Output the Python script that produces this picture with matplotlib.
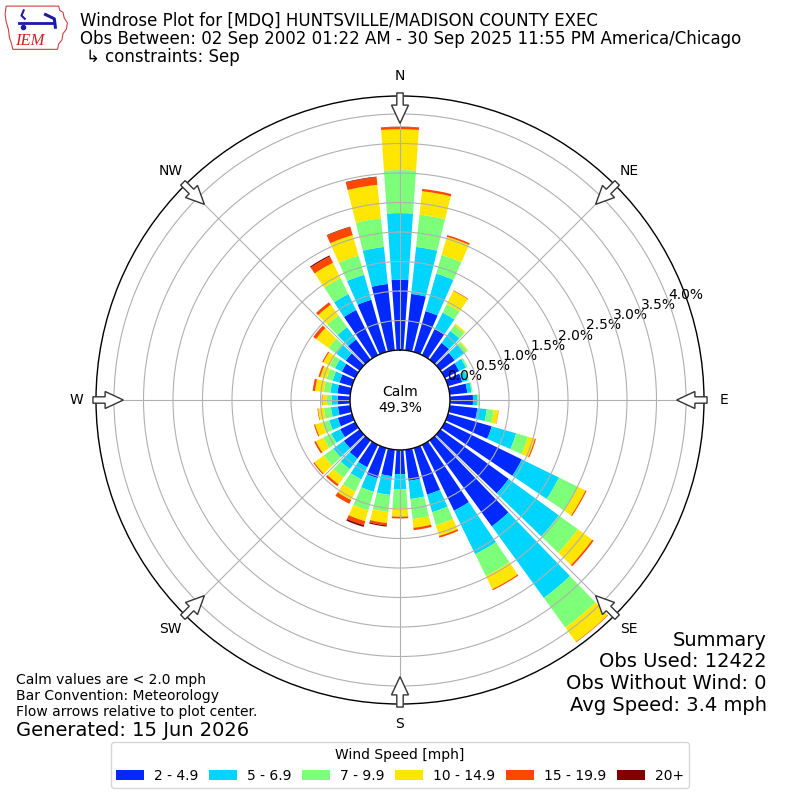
import numpy as np
import matplotlib
matplotlib.use("Agg")
import matplotlib.pyplot as plt
from matplotlib.patches import FancyArrow, Patch, Polygon

# ---------------- data ----------------
directions = np.arange(0, 360, 10)  # degrees, meteorological
speed_labels = ["2 - 4.9", "5 - 6.9", "7 - 9.9", "10 - 14.9", "15 - 19.9", "20+"]

# frequency [%] per direction for each speed bin
spd_2_5 = [1.19, 0.96, 0.72, 0.49, 0.35, 0.30, 0.27, 0.25, 0.30, 0.39,
           0.47, 0.77, 1.45, 1.43, 1.80, 1.24, 0.82, 0.53, 0.41, 0.45,
           0.53, 0.42, 0.38, 0.33, 0.28, 0.25, 0.21, 0.21, 0.22, 0.22,
           0.25, 0.29, 0.42, 0.85, 0.92, 1.13]
spd_5_7 = [1.13, 0.80, 0.66, 0.31, 0.25, 0.20, 0.13, 0.10, 0.07, 0.07,
           0.16, 0.43, 0.70, 1.05, 1.50, 0.82, 0.31, 0.31, 0.26, 0.32,
           0.24, 0.23, 0.22, 0.22, 0.17, 0.15, 0.12, 0.10, 0.12, 0.12,
           0.13, 0.20, 0.26, 0.30, 0.44, 0.63]
spd_7_10 = [0.73, 0.55, 0.33, 0.16, 0.12, 0.06, 0.03, 0.02, 0.02, 0.03,
            0.12, 0.21, 0.35, 0.40, 0.62, 0.41, 0.23, 0.34, 0.32, 0.29,
            0.33, 0.23, 0.18, 0.20, 0.15, 0.12, 0.12, 0.08, 0.11, 0.11,
            0.10, 0.16, 0.25, 0.30, 0.34, 0.49]
spd_10_15 = [0.69, 0.40, 0.32, 0.25, 0.03, 0.02, 0.00, 0.00, 0.00, 0.01,
             0.08, 0.12, 0.15, 0.30, 0.30, 0.25, 0.19, 0.15, 0.14, 0.19,
             0.19, 0.16, 0.14, 0.20, 0.14, 0.13, 0.10, 0.08, 0.15, 0.11,
             0.12, 0.26, 0.22, 0.29, 0.36, 0.57]
spd_15_20 = [0.04, 0.04, 0.03, 0.01, 0.00, 0.00, 0.00, 0.00, 0.00, 0.00,
             0.005, 0.02, 0.02, 0.03, 0.01, 0.02, 0.03, 0.04, 0.03, 0.04,
             0.07, 0.07, 0.04, 0.02, 0.03, 0.02, 0.01, 0.01, 0.04, 0.03,
             0.02, 0.06, 0.05, 0.12, 0.14, 0.13]
spd_20p = [0.005, 0.0, 0.0, 0.0, 0.0, 0.0, 0.0, 0.0, 0.0, 0.0,
           0.0, 0.0, 0.0, 0.0, 0.0, 0.0, 0.0, 0.0, 0.0, 0.02,
           0.03, 0.0, 0.0, 0.0, 0.0, 0.0, 0.0, 0.0, 0.0, 0.0,
           0.0, 0.0, 0.0, 0.02, 0.01, 0.01]
speed_bins = [spd_2_5, spd_5_7, spd_7_10, spd_10_15, spd_15_20, spd_20p]

calm_pct = 49.3
rticks = [0.0, 0.5, 1.0, 1.5, 2.0, 2.5, 3.0, 3.5, 4.0]
compass_angles = [0, 45, 90, 135, 180, 225, 270, 315]
compass_labels = ["N", "NE", "E", "SE", "S", "SW", "W", "NW"]

title_lines = ["Windrose Plot for [MDQ] HUNTSVILLE/MADISON COUNTY EXEC",
               "Obs Between: 02 Sep 2002 01:22 AM - 30 Sep 2025 11:55 PM America/Chicago",
               "\u21b3 constraints: Sep"]
notes = ["Calm values are < 2.0 mph", "Bar Convention: Meteorology",
         "Flow arrows relative to plot center."]
generated = "Generated: 15 Jun 2026"
summary = ["Summary", "Obs Used: 12422", "Obs Without Wind: 0", "Avg Speed: 3.4 mph"]

# ---------------- figure ----------------
plt.rcParams['font.family'] = ['DejaVu Sans']
fig = plt.figure(figsize=(8, 8), dpi=100)
ax = fig.add_axes([0.12, 0.12, 0.76, 0.76], projection="polar")
ax.set_theta_zero_location("N")
ax.set_theta_direction(-1)

colors = [plt.cm.jet(v) for v in np.linspace(1 / 6, 1.0, 6)]
theta = np.deg2rad(directions)
width = np.deg2rad(8.0)
bottom = np.zeros(len(directions))
handles = []
for vals, col, lab in zip(speed_bins, colors, speed_labels):
    vals = np.asarray(vals)
    ax.bar(theta, vals, width=width, bottom=bottom, color=col,
           edgecolor="none", linewidth=0, align="center", zorder=1)
    bottom = bottom + vals
    handles.append(Patch(facecolor=col, label=lab))

ax.set_ylim(0, 4.305)
ax.set_rorigin(-0.847)

ax.set_rgrids(rticks, labels=["%.1f%%" % t for t in rticks], angle=70, fontsize=10)
ax.set_thetagrids(compass_angles, labels=[""] * len(compass_angles))
ax.grid(True, color="#b0b0b0", linewidth=0.8)
ax.spines["polar"].set_linewidth(1.0)
ax.spines["inner"].set_linewidth(1.0)
ax.spines["inner"].set_color("black")

# compass labels
for a, lab in zip(compass_angles, compass_labels):
    ax.text(np.deg2rad(a), 4.645, lab, ha="center", va="center", fontsize=10)

# calm text
ax.text(0, -0.847, "Calm\n%.1f%%" % calm_pct, ha="center", va="center", fontsize=10,
        zorder=6)

# flow arrows
for a in compass_angles:
    s, c = np.sin(np.deg2rad(a)), np.cos(np.deg2rad(a))
    x0, y0 = 0.5 + 0.505 * s, 0.5 + 0.505 * c
    L = 0.05
    arr = FancyArrow(x0, y0, -L * s, -L * c, width=0.0105, head_width=0.028,
                     head_length=0.03, length_includes_head=True,
                     transform=ax.transAxes, facecolor="white", edgecolor="#333333",
                     linewidth=1.0, zorder=5, clip_on=False)
    ax.add_patch(arr)

# titles
fig.text(80 / 800, 1 - 26 / 800, title_lines[0], fontsize=12, va="baseline")
fig.text(80 / 800, 1 - 44 / 800, title_lines[1], fontsize=12, va="baseline")
fig.text(86 / 800, 1 - 62 / 800, title_lines[2], fontsize=12, va="baseline")

# notes
for i, t in enumerate(notes):
    fig.text(16 / 800, 1 - (680 + 16 * i) / 800, t, fontsize=10, va="center")
fig.text(16 / 800, 1 - 730 / 800, generated, fontsize=14, va="center")

for i, t in enumerate(summary):
    fig.text(767 / 800, 1 - (640 + 21.7 * i) / 800, t, fontsize=14, va="center", ha="right")

leg = fig.legend(handles=handles, loc="lower center", bbox_to_anchor=(0.5, 0.006),
                 ncol=6, title="Wind Speed [mph]", fontsize=10, title_fontsize=10,
                 handlelength=2.0, handletextpad=0.7, columnspacing=0.8,
                 frameon=True)

# logo
lax = fig.add_axes([0.005, 0.937, 0.082, 0.058])
lax.set_xlim(0, 60)
lax.set_ylim(0, 44)
lax.axis("off")
iowa = [(2, 42), (50, 42), (51, 38), (54, 36), (55, 31), (58, 26), (57, 20), (54, 16),
        (53, 10), (50, 6), (49, 1), (8, 1), (7, 6), (5, 12), (4, 20), (2, 27), (1, 34)]
lax.add_patch(Polygon(iowa, closed=True, fill=False, edgecolor="#d04040", linewidth=0.8))
lax.plot([14, 44], [26, 26], color="#1a1aa8", linewidth=2)
lax.plot([18, 16, 19], [38, 33, 30], color="#1a1aa8", linewidth=1.5)
lax.plot([38, 46, 47], [34, 30, 22], color="#1a1aa8", linewidth=2.2)
lax.plot([17], [22], marker="o", color="#1a1aa8", markersize=3)
lax.text(24, 9, "IEM", color="#d02020", fontsize=12, fontstyle="italic",
         family=["Liberation Serif", "DejaVu Serif"], ha="center", va="center")

fig.savefig("out.png", dpi=100)
